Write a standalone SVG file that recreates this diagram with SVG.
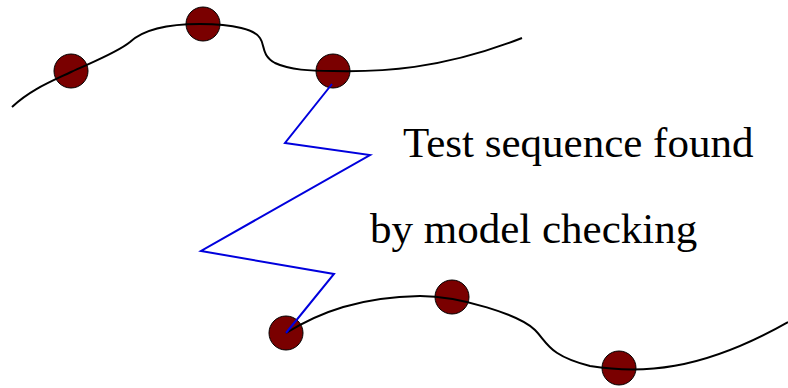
<svg xmlns="http://www.w3.org/2000/svg" width="788" height="388" viewBox="0 0 788 388">
<style>
.dot{fill:#7a0000;stroke:#000;stroke-width:1}
.curve{fill:none;stroke:#000;stroke-width:2}
.trace{fill:none;stroke:#0000dd;stroke-width:2}
.lbl{font-family:"Liberation Serif",serif;font-size:43px;fill:#000}
</style>
<g id="states-top">
<circle class="dot" cx="71" cy="71" r="17"/>
<circle class="dot" cx="203" cy="24" r="17"/>
<circle class="dot" cx="333" cy="71" r="17"/>
</g>
<g id="states-bottom">
<circle class="dot" cx="286" cy="333" r="17"/>
<circle class="dot" cx="452" cy="297" r="17"/>
<circle class="dot" cx="619" cy="368" r="17"/>
</g>
<g id="connectors">
<path class="curve" d="M12,107 C30,90 50,82 71,72 C95,61 118,52 130,42 C145,28 175,24 200,24 C235,24 255,30 260,38 C265,45 261,55 275,63 C290,70 310,71 333,71 C380,72 440,70 522,38"/>
<path class="curve" d="M286,333 C320,312 360,297 420,296 C460,296 520,315 535,330 C548,343 548,355 590,366 C640,374 700,372 788,322"/>
<polyline class="trace" points="332,84 285,143 370,155 201,251 334,274 286,333"/>
</g>
<g id="label">
<text class="lbl" x="403" y="157">Test sequence found</text>
<text class="lbl" x="370" y="243">by model checking</text>
</g>
</svg>
